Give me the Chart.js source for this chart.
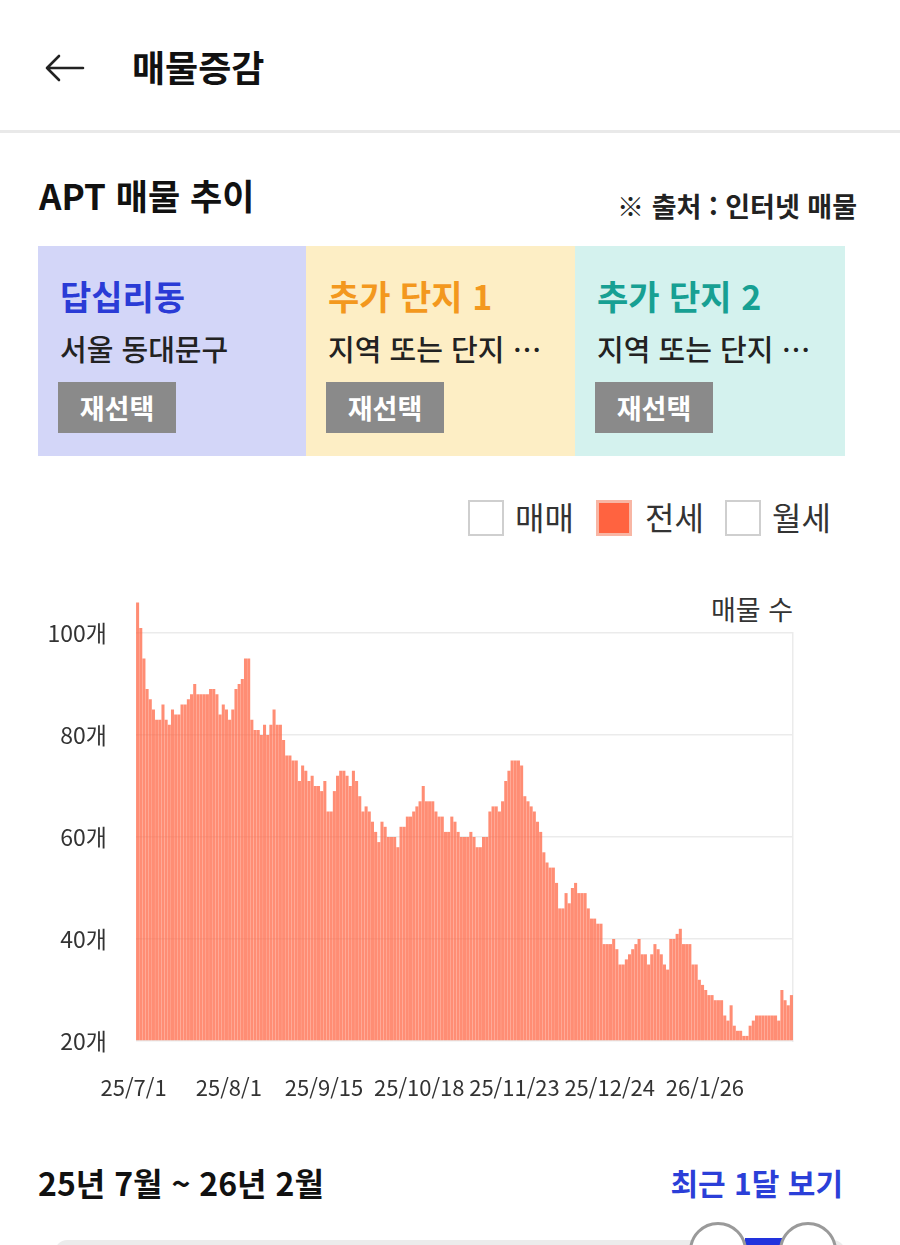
<!DOCTYPE html>
<html lang="ko">
<head>
<meta charset="utf-8">
<title>매물증감</title>
<script src="https://cdn.jsdelivr.net/npm/chart.js@4.4.1/dist/chart.umd.min.js"></script>
<style>
  html, body { margin: 0; padding: 0; background: #fff; }
  body {
    width: 900px; height: 1245px; position: relative; overflow: hidden;
    font-family: 'Noto Sans CJK KR', 'Noto Sans', sans-serif; color: #111;
  }
  .t { position: absolute; white-space: nowrap; line-height: 40px; }
  .b { font-weight: 700; }
  .divider { position: absolute; left: 0; top: 130px; width: 900px; height: 3px; background: #e9e9e9; }
  .card { position: absolute; top: 246px; height: 210px; }
  .card .name { left: 22px; top: 30px; font-size: 34px; font-weight: 700; }
  .card .area { left: 22px; top: 82px; font-size: 29px; font-weight: 500; color: #222; }
  .card .btn {
    position: absolute; left: 20px; top: 136px; width: 118px; height: 51px;
    background: #8a8a8a; color: #fff; font-size: 27px; font-weight: 700;
    line-height: 51px; text-align: center;
  }
  .box { position: absolute; top: 500px; width: 32px; height: 32px; border: 2px solid #cfcfcf; background: #fff; }
  .box.on { background: #ff6340; border: 3px solid #f8b6a4; width: 30px; height: 30px; }
  .lg { top: 496px; font-size: 32px; color: #333; }
  #chartWrap { position: absolute; left: 0; top: 580px; width: 900px; height: 521px; }
  .track { position: absolute; left: 55px; top: 1240px; width: 790px; height: 24px; border-radius: 12px; background: #ececec; }
  .range { position: absolute; left: 745px; top: 1238px; width: 37px; height: 26px; background: #2233dd; }
  .knob { position: absolute; top: 1222px; width: 52px; height: 52px; border-radius: 50%; background: #fff; border: 3px solid #9a9a9a; }
</style>
</head>
<body>

<svg style="position:absolute;left:44px;top:50px" width="42" height="36" viewBox="0 0 42 36">
  <path d="M3 18 H39 M3 18 L15 6 M3 18 L15 30" fill="none" stroke="#222" stroke-width="2.6" stroke-linecap="round" stroke-linejoin="round"/>
</svg>
<div class="t b" style="left:132px;top:46px;font-size:36px;">매물증감</div>
<div class="divider"></div>

<div class="t b" style="left:39px;top:175px;font-size:35px;">APT 매물 추이</div>
<div class="t b" style="right:43px;top:186px;font-size:27px;color:#222;">※ 출처 : 인터넷 매물</div>

<div class="card" style="left:38px;width:268px;background:#d3d6f8;">
  <div class="t name" style="color:#2a3bd6;">답십리동</div>
  <div class="t area">서울 동대문구</div>
  <div class="btn">재선택</div>
</div>
<div class="card" style="left:306px;width:269px;background:#fdeec5;">
  <div class="t name" style="color:#f3981e;">추가 단지 1</div>
  <div class="t area">지역 또는 단지 …</div>
  <div class="btn">재선택</div>
</div>
<div class="card" style="left:575px;width:270px;background:#d4f2ee;">
  <div class="t name" style="color:#17a093;">추가 단지 2</div>
  <div class="t area">지역 또는 단지 …</div>
  <div class="btn">재선택</div>
</div>

<div class="box" style="left:468px;"></div>
<div class="t lg" style="left:515px;">매매</div>
<div class="box on" style="left:596px;"></div>
<div class="t lg" style="left:645px;">전세</div>
<div class="box" style="left:725px;"></div>
<div class="t lg" style="left:772px;">월세</div>

<div class="t" style="right:107px;top:589px;font-size:27px;color:#333;">매물 수</div>

<div id="chartWrap"><canvas id="listingChart"></canvas></div>

<div class="t b" style="left:38px;top:1162px;font-size:32px;">25년 7월 ~ 26년 2월</div>
<div class="t b" style="right:57px;top:1162px;font-size:30px;color:#2b3fd8;">최근 1달 보기</div>

<div class="track"></div>
<div class="range"></div>
<div class="knob" style="left:689px;"></div>
<div class="knob" style="left:779px;"></div>

<script>
// 전세 매물 수 — each run starts at the date shown as an x tick
const TICK_LABELS = ['25/7/1', '25/8/1', '25/9/15', '25/10/18', '25/11/23', '25/12/24', '26/1/26'];

const FROM_JUL01 = [106, 101, 95, 89, 87, 85, 83, 83, 86, 83, 82, 85, 84, 84, 86,
                    86, 87, 88, 90, 88, 88, 88, 88, 89, 89, 88, 84, 86, 85, 83];
const FROM_AUG01 = [85, 89, 90, 91, 95, 95, 83, 81, 81, 80, 82, 80, 82, 85, 82,
                    82, 79, 76, 76, 75, 75, 71, 74, 73, 71, 72, 70, 70, 69, 71];
const FROM_SEP15 = [65, 65, 69, 72, 73, 73, 72, 70, 73, 71, 68, 65, 66, 65, 63,
                    61, 59, 63, 62, 60, 60, 60, 58, 62, 62, 64, 64, 65, 66, 67];
const FROM_OCT18 = [70, 67, 67, 67, 65, 64, 64, 61, 61, 64, 63, 61, 60, 60, 60,
                    61, 60, 58, 58, 60, 60, 65, 66, 66, 65, 67, 71, 73, 75, 75];
const FROM_NOV23 = [75, 74, 68, 67, 66, 65, 63, 61, 57, 55, 54, 54, 51, 46, 46,
                    49, 47, 50, 51, 49, 49, 49, 46, 44, 44, 43, 43, 39, 39, 39];
const FROM_DEC24 = [40, 38, 35, 35, 36, 37, 38, 39, 40, 37, 37, 35, 37, 39, 38,
                    37, 35, 34, 40, 40, 41, 42, 39, 39, 39, 35, 35, 32, 31, 30];
const FROM_JAN26 = [29, 29, 28, 28, 28, 25, 24, 27, 23, 22, 22, 21, 21, 23, 24,
                    25, 25, 25, 25, 25, 25, 25, 24, 30, 28, 27, 29];

const RUNS = [FROM_JUL01, FROM_AUG01, FROM_SEP15, FROM_OCT18, FROM_NOV23, FROM_DEC24, FROM_JAN26];

const Y_MIN = 20;
const Y_MAX = 100;

const labels = [];
const values = [];
RUNS.forEach((run, r) => {
  run.forEach((v, i) => {
    labels.push(i === 0 ? TICK_LABELS[r] : '');
    values.push(v);
  });
});

const FONT = "'Noto Sans CJK KR', 'Noto Sans', sans-serif";
const TEXT = '#333';
const GRID = '#ebebeb';

new Chart(document.getElementById('listingChart'), {
  type: 'bar',
  data: {
    labels,
    datasets: [{
      label: '전세',
      data: values,
      base: Y_MIN,
      backgroundColor: 'rgba(255,99,64,0.73)',
      borderWidth: 0,
      barPercentage: 0.96,
      categoryPercentage: 1.0,
      clip: false,   // 100개를 넘는 초반 막대가 위로 삐져나오게
    }],
  },
  options: {
    responsive: true,
    maintainAspectRatio: false,
    animation: false,
    layout: { padding: { left: 0, right: 107, top: 53, bottom: 0 } },
    plugins: {
      legend: { display: false },
      tooltip: { enabled: false },
    },
    scales: {
      x: {
        offset: true,
        grid: { display: false, drawTicks: false },
        border: { display: false },
        ticks: {
          autoSkip: false,
          maxRotation: 0,
          minRotation: 0,
          padding: 33,
          labelOffset: -4,
          color: TEXT,
          font: { family: FONT, size: 22 },
        },
        afterFit: axis => { axis.height = 60; },
      },
      y: {
        min: Y_MIN,
        max: Y_MAX,
        ticks: {
          stepSize: 20,
          padding: 29,
          color: TEXT,
          font: { family: FONT, size: 23 },
          callback: v => v + '개',
        },
        grid: { color: GRID, lineWidth: 1.5, drawTicks: false },
        border: { display: false },
        afterFit: axis => { axis.width = 136; },
      },
      edge: {
        type: 'linear',
        position: 'right',
        min: Y_MIN,
        max: Y_MAX,
        grid: { display: false, drawTicks: false },
        ticks: { display: false },
        border: { display: true, color: GRID, width: 1.5 },
        afterFit: axis => { axis.width = 0; },
      },
    },
  },
});
</script>
</body>
</html>
